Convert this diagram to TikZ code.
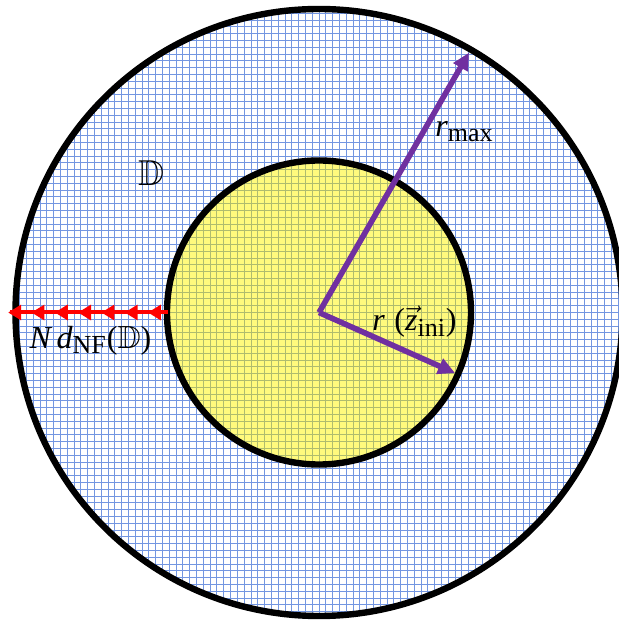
\documentclass[tikz,border=0pt]{standalone}
\usepackage{amsmath,amssymb}
\usepackage{fontspec}
\setmainfont{Liberation Serif}
\usetikzlibrary{arrows.meta}

\definecolor{gridblue}{RGB}{115,150,225}
\definecolor{gridolive}{RGB}{175,188,110}
\definecolor{innerfill}{RGB}{255,250,125}
\definecolor{radpurple}{RGB}{112,48,160}
\DeclareMathSizes{16}{16}{13}{10}
\newcommand{\tvar}[1]{\text{\itshape #1}}

\begin{document}
\begin{tikzpicture}[x=0.5pt,y=0.5pt,
    ring/.style={line width=3.2pt,black},
    gridline/.style={line width=0.5pt},
    rarrow/.style={line width=2.8pt,radpurple,-{Triangle[length=8.5pt,width=8pt]}},
    nfline/.style={line width=2pt,red},
    nfhead/.style={line width=2pt,red,-{Triangle[length=6.5pt,width=7.5pt]}},
    lbl/.style={font=\fontsize{16}{19}\selectfont}]
    \useasboundingbox (-319,-307.5) rectangle (299,312.5);
    \coordinate (c) at (0,0);

    % fine grid over the whole disc
    \begin{scope}
        \clip (c) circle (303.5);
        \draw[gridline,gridblue,step=3.4pt] (-320,-320) grid (320,320);
    \end{scope}

    \fill[innerfill] (c) circle (152);
    \begin{scope}
        \clip (c) circle (152);
        \draw[gridline,gridolive,step=3.4pt] (-160,-160) grid (160,160);
    \end{scope}

    \draw[ring] (c) circle (303.5);
    \draw[ring] (c) circle (152);

    \coordinate (rmaxend) at (60:300);
    \coordinate (riniend) at (-24:149);
    \draw[rarrow] (c) -- (rmaxend);
    \draw[rarrow] (c) -- (riniend);

    % steps towards the outer rim
    \coordinate (nfstart) at (-151,0);
    \coordinate (nfend) at (-309,0);
    \draw[nfline] (nfstart) -- (nfend);
    \foreach \i in {0,...,6}
        \draw[nfhead] ({-161-\i*23.3},0) -- ({-171-\i*23.3},0);

    \node[lbl] (rmaxlbl) at (145.5,180.5) {$\tvar{r}_{\text{max}}$};
    \node[lbl] (rinilbl) at (95.5,-9.5) {$\tvar{r}\;\text{(}\vec{\tvar{z}}_{\text{ini}}\text{)}$};
    \node[lbl] (nflbl) at (-228.5,-28.5) {$\tvar{N}\,\tvar{d}_{\text{NF}}\text{(}\mathbb{D}\text{)}$};
    \node[font=\fontsize{18}{21}\selectfont] (domain) at (-167.3,139.2) {$\mathbb{D}$};
\end{tikzpicture}
\end{document}
